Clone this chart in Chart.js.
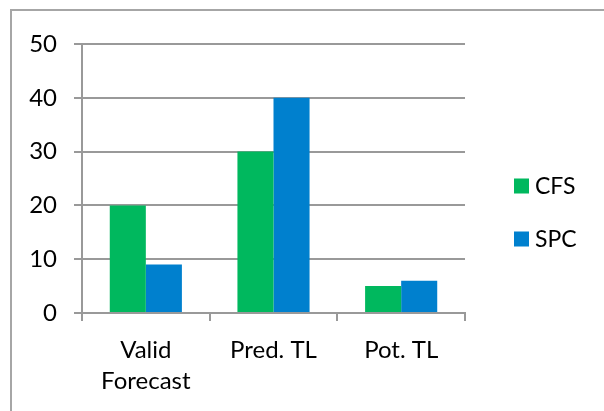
<!DOCTYPE html>
<html>
<head>
<meta charset="utf-8">
<script src="https://cdn.jsdelivr.net/npm/chart.js@4/dist/chart.umd.min.js"></script>
<style>
  html, body { margin: 0; padding: 0; background: #fff; overflow: hidden; }
  #wrap { position: relative; width: 604px; height: 411px; }
  #frame { position: absolute; left: 10px; top: 9px; width: 700px; height: 500px; border: 2px solid #a6a6a6; }
  canvas { position: absolute; left: 0; top: 0; }
</style>
</head>
<body>
<div id="wrap">
  <div id="frame"></div>
  <canvas id="chart" width="604" height="411"></canvas>
</div>
<script>
const categories = [["Valid", "Forecast"], "Pred. TL", "Pot. TL"];
const cfsValues = [20, 30, 5];
const spcValues = [9, 40, 6];
const seriesNames = ["CFS", "SPC"];
const seriesColors = ["#00B85E", "#0080CE"];

const FONT = "Lato, 'Open Sans', sans-serif";
const MAJOR = "#999999";
const MINOR = "#d0d0d0";

// legend drawn to the right of the plot, square swatch + label
const sideLegend = {
  id: "sideLegend",
  afterDraw(chart) {
    const ctx = chart.ctx;
    ctx.save();
    ctx.font = "23px " + FONT;
    ctx.textBaseline = "middle";
    ctx.textAlign = "left";
    chart.data.datasets.forEach((ds, i) => {
      const y = 186 + i * 53;
      ctx.fillStyle = ds.backgroundColor;
      ctx.fillRect(514, y - 7.5, 15, 15);
      ctx.fillStyle = "#000";
      ctx.fillText(ds.label, 535, y + 1);
    });
    ctx.restore();
  }
};

new Chart(document.getElementById("chart"), {
  type: "bar",
  data: {
    labels: categories,
    datasets: [
      { label: seriesNames[0], data: cfsValues, backgroundColor: seriesColors[0] },
      { label: seriesNames[1], data: spcValues, backgroundColor: seriesColors[1] }
    ]
  },
  options: {
    responsive: false,
    animation: false,
    layout: { padding: { top: 44, right: 139, bottom: 0, left: 0 } },
    datasets: { bar: { barPercentage: 1, categoryPercentage: 0.565 } },
    plugins: { legend: { display: false }, tooltip: { enabled: false } },
    scales: {
      y: {
        min: 0,
        max: 50,
        afterFit: (s) => { s.width = 82; },
        ticks: {
          stepSize: 5,
          padding: 17,
          color: "#000",
          font: { family: FONT, size: 24 },
          callback: (v) => (v % 10 === 0 ? v : "")
        },
        grid: {
          color: (c) => (c.tick.value % 10 === 0 ? MAJOR : MINOR),
          lineWidth: 2,
          tickLength: 8,
          tickColor: (c) => (c.tick.value % 10 === 0 ? MAJOR : "rgba(0,0,0,0)")
        },
        border: { color: MAJOR, width: 2 }
      },
      x: {
        afterFit: (s) => { s.height = 98; },
        ticks: {
          padding: 13,
          color: "#000",
          font: { family: FONT, size: 24, lineHeight: 1.32 },
          maxRotation: 0
        },
        grid: {
          offset: true,
          drawOnChartArea: false,
          tickLength: 8,
          color: MAJOR,
          lineWidth: 2
        },
        border: { color: MAJOR, width: 2 }
      }
    }
  },
  plugins: [sideLegend]
});
</script>
</body>
</html>
